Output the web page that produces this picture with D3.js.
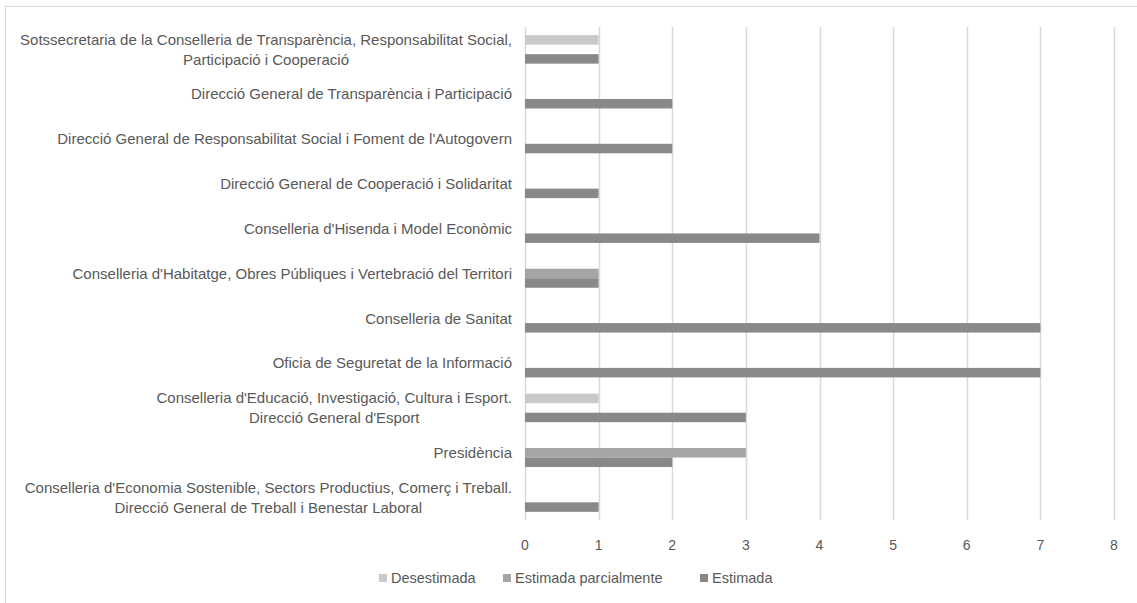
<!DOCTYPE html>
<html><head><meta charset="utf-8">
<script src="https://cdn.jsdelivr.net/npm/d3@7"></script>
<style>body{margin:0;background:#fff}svg{display:block}text{font-family:"Liberation Sans",Arial,sans-serif}</style>
</head><body><svg id="c" width="1137" height="603"></svg>
<script>
const categories = [
  ["Sotssecretaria de la Conselleria de Transparència, Responsabilitat Social,", "Participació i Cooperació"],
  ["Direcció General de Transparència i Participació"],
  ["Direcció General de Responsabilitat Social i Foment de l'Autogovern"],
  ["Direcció General de Cooperació i Solidaritat"],
  ["Conselleria d'Hisenda i Model Econòmic"],
  ["Conselleria d'Habitatge, Obres Públiques i Vertebració del Territori"],
  ["Conselleria de Sanitat"],
  ["Oficia de Seguretat de la Informació"],
  ["Conselleria d'Educació, Investigació, Cultura i Esport.", "Direcció General d'Esport"],
  ["Presidència"],
  ["Conselleria d'Economia Sostenible, Sectors Productius, Comerç i Treball.", "Direcció General de Treball i Benestar Laboral"]
];
const seriesNames = ["Desestimada", "Estimada parcialmente", "Estimada"];
const desestimada = [1,0,0,0,0,0,0,0,1,0,0];
const parcialmente = [0,0,0,0,0,1,0,0,0,3,0];
const estimada = [1,2,2,1,4,1,7,7,3,2,1];
const xTicks = [0,1,2,3,4,5,6,7,8];
const colors = ["#c9c9c9","#a5a5a5","#898989"];
const seriesValues = [desestimada, parcialmente, estimada];

const svg = d3.select("#c");
svg.append("rect").attr("x",5.5).attr("y",6.5).attr("width",1140).attr("height",610)
  .attr("fill","none").attr("stroke","#d9d9d9");

const x = d3.scaleLinear().domain([0,8]).range([525,1114]);
const y = d3.scaleBand().domain(d3.range(categories.length)).range([27,520]);
const inner = d3.scaleBand().domain(d3.range(3)).range([-14.25,14.25]);

svg.append("g").selectAll("line").data(xTicks).join("line")
  .attr("x1",d=>Math.round(x(d))+0.5).attr("x2",d=>Math.round(x(d))+0.5)
  .attr("y1",27).attr("y2",520).attr("stroke","#d9d9d9").attr("stroke-width",1.5);

seriesValues.forEach((vals,s)=>{
  svg.append("g").selectAll("rect").data(vals).join("rect")
    .attr("x",x(0)).attr("width",d=>x(d)-x(0))
    .attr("y",(d,i)=>y(i)+y.bandwidth()/2+inner(s))
    .attr("height",inner.bandwidth())
    .attr("fill",colors[s]);
});

const lab = svg.append("g").attr("fill","#595959").attr("font-size",15).attr("text-anchor","middle");
categories.forEach((lines,i)=>{
  const cy = y(i)+y.bandwidth()/2;
  const texts = lines.map((t,k)=>lab.append("text")
    .attr("y",cy + (k-(lines.length-1)/2)*20).attr("dy","0.35em").text(t));
  const maxW = d3.max(texts, t=>t.node().getComputedTextLength());
  texts.forEach(t=>t.attr("x", 512 - maxW/2));
});

svg.append("g").attr("fill","#595959").attr("font-size",14).attr("text-anchor","middle")
  .selectAll("text").data(xTicks).join("text")
  .attr("x",d=>x(d)).attr("y",545).attr("dy","0.35em").text(d=>d);

const legX = [379, 503, 700];
const lg = svg.append("g");
seriesNames.forEach((n,i)=>{
  lg.append("rect").attr("x",legX[i]).attr("y",574).attr("width",8).attr("height",8).attr("fill",colors[i]);
  lg.append("text").attr("x",legX[i]+12).attr("y",578).attr("dy","0.35em")
    .attr("font-size",14.5).attr("fill","#595959").text(n);
});
</script></body></html>
